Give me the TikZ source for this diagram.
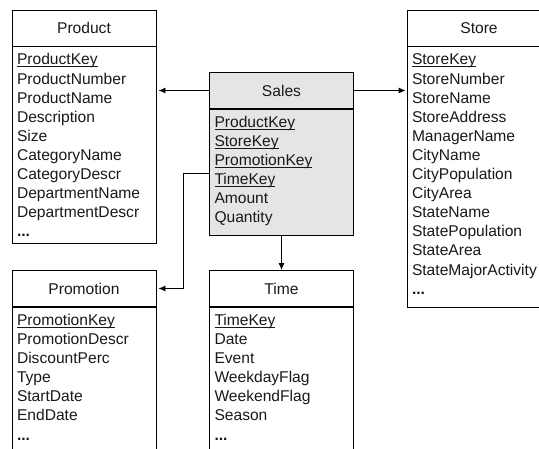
\documentclass[tikz,border=0pt]{standalone}
\usepackage{fontspec}
\setmainfont{Liberation Sans}
\usetikzlibrary{arrows.meta,calc}

\newcommand{\keyattr}[1]{\underline{\smash{#1}}}
\newcommand{\moreattr}{\textbf{...}}

\begin{document}
\begin{tikzpicture}[x=1pt,y=-1pt,>={Latex[length=7pt,width=6pt]},line width=0.9pt,
  font=\fontsize{15.6}{19}\selectfont,
  head/.style={draw,minimum width=144,minimum height=36,inner sep=0pt,text=black!90},
  body/.style={draw,minimum width=144,anchor=north,inner sep=0pt},
  field/.style={anchor=base west,inner sep=0pt,text=black!90},
  fact/.style={fill=black!10}]
\useasboundingbox (0,0) rectangle (539,448);

% dimension tables
\node[head] (product) at (84,28) {Product};
\node[body,minimum height=197] (productbody) at (product.south) {};
\foreach \f [count=\i] in {\keyattr{ProductKey},ProductNumber,ProductName,Description,Size,
    CategoryName,CategoryDescr,DepartmentName,DepartmentDescr,\moreattr}
  \node[field] (productf\i) at ($(productbody.north west)+(5,{18.5+19.1*(\i-1)})$) {\f};

\node[head] (store) at (479,28) {Store};
\node[body,minimum height=261] (storebody) at (store.south) {};
\foreach \f [count=\i] in {\keyattr{StoreKey},StoreNumber,StoreName,StoreAddress,ManagerName,
    CityName,CityPopulation,CityArea,StateName,StatePopulation,StateArea,StateMajorActivity,\moreattr}
  \node[field] (storef\i) at ($(storebody.north west)+(5,{18.5+19.1*(\i-1)})$) {\f};

\node[head] (promotion) at (84,288.5) {Promotion};
\node[body,minimum height=170] (promotionbody) at (promotion.south) {};
\foreach \f [count=\i] in {\keyattr{PromotionKey},PromotionDescr,DiscountPerc,Type,StartDate,EndDate,\moreattr}
  \node[field] (promotionf\i) at ($(promotionbody.north west)+(5,{18.5+19.1*(\i-1)})$) {\f};

\node[head] (time) at (281.5,288.5) {Time};
\node[body,minimum height=170] (timebody) at (time.south) {};
\foreach \f [count=\i] in {\keyattr{TimeKey},Date,Event,WeekdayFlag,WeekendFlag,Season,\moreattr}
  \node[field] (timef\i) at ($(timebody.north west)+(5,{18.5+19.1*(\i-1)})$) {\f};

% fact table
\node[head,fact] (sales) at (281.5,90.5) {Sales};
\node[body,fact,minimum height=126] (salesbody) at (sales.south) {};
\foreach \f [count=\i] in {\keyattr{ProductKey},\keyattr{StoreKey},\keyattr{PromotionKey},
    \keyattr{TimeKey},Amount,Quantity}
  \node[field] (salesf\i) at ($(salesbody.north west)+(5,{18.5+19.1*(\i-1)})$) {\f};

% references
\draw[->,shorten >=2pt] (sales.west) -- (sales.west -| productbody.east);
\draw[->,shorten >=1pt] (sales.east) -- (sales.east -| storebody.west);
\draw[->] (salesbody.south) -- (time.north);
\draw[->,shorten >=2pt] ($(salesbody.north west)+(0,64)$) -- ++(-26,0) |- (promotion.east);
\end{tikzpicture}
\end{document}
